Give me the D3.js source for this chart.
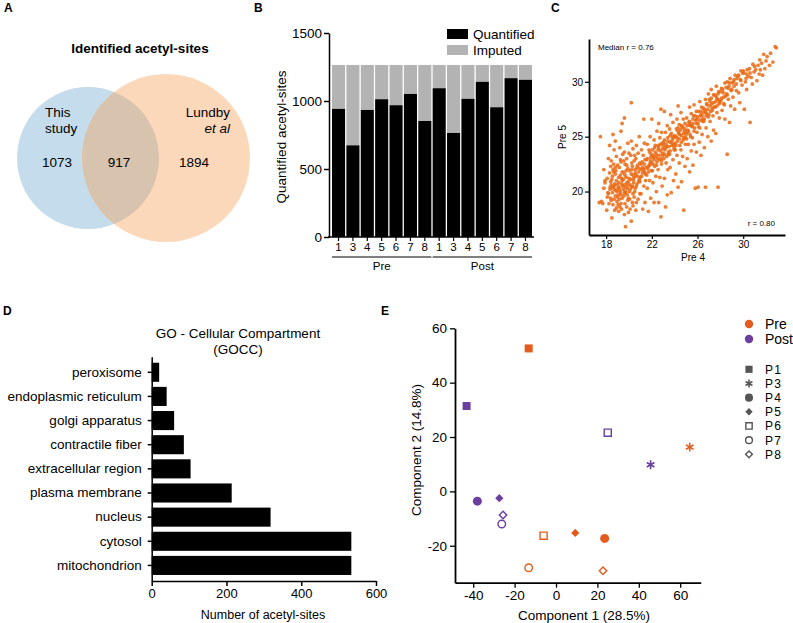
<!DOCTYPE html>
<meta charset="utf-8">
<script src="https://cdn.jsdelivr.net/npm/d3@7"></script>
<style>
body { margin: 0; background: #fff; }
svg { font-family: "Liberation Sans", Arial, sans-serif; }
.axis path, .axis line { stroke: #000; }
.axis text { fill: #000; }
</style>
<body>
<script>
// ---- A: venn counts
var vennLeft = 1073, vennBoth = 917, vennRight = 1894

// ---- B: quantified / imputed per sample
var sampleLabels = ["1","3","4","5","6","7","8","1","3","4","5","6","7","8"]
var sampleGroups = ["Pre","Pre","Pre","Pre","Pre","Pre","Pre","Post","Post","Post","Post","Post","Post","Post"]
var quantified = [942,674,934,1013,969,1052,853,1094,765,1016,1141,954,1168,1156]
var totalSites = 1265

// ---- C: Pre 4 vs Pre 5 intensities
var scatterPairs = [
[17.4,19.0],[17.6,19.1],[17.8,20.3],[17.9,21.0],[17.5,25.0],[17.7,18.9],[17.9,20.8],[17.8,22.0],
[18.05,18.3],[18.1,19.5],[18.2,19.8],[18.35,20.2],[18.45,20.6],[18.1,21.2],[18.3,21.7],[18.4,22.3],[18.2,23.0],[18.3,24.2],[18.5,17.6],[18.15,19.9],[18.4,20.9],[18.25,18.9],[18.45,22.8],
[18.6,18.8],[18.7,19.3],[18.8,19.6],[18.95,20.0],[18.6,20.4],[18.75,20.7],[18.9,21.0],[18.55,21.4],[18.85,21.9],[18.65,22.5],[18.9,23.2],[18.7,23.8],[18.8,24.6],[18.6,25.2],[18.95,19.1],[18.7,20.2],[18.8,21.6],[18.9,18.5],[18.6,22.0],
[19.7,16.8],[19.1,18.2],[19.3,18.9],[19.4,19.4],[19.05,19.7],[19.2,20.1],[19.45,20.5],[19.1,20.8],[19.35,21.2],[19.25,21.5],[19.4,21.8],[19.15,22.2],[19.3,22.7],[19.45,23.4],[19.2,24.0],[19.3,25.5],[19.4,26.2],[19.25,19.9],[19.05,20.3],[19.4,21.0],[19.2,18.6],
[19.6,17.9],[19.8,18.6],[19.9,19.2],[19.55,19.6],[19.7,19.9],[19.85,20.3],[19.6,20.6],[19.95,20.9],[19.75,21.3],[19.55,21.7],[19.9,22.1],[19.65,22.5],[19.8,23.0],[19.6,23.6],[19.9,24.4],[19.6,26.7],[19.7,20.0],[19.8,20.8],[19.65,21.5],[19.95,19.4],
[20.2,17.3],[20.1,18.4],[20.3,19.0],[20.45,19.5],[20.05,20.0],[20.25,20.4],[20.4,20.8],[20.15,21.1],[20.35,21.5],[20.05,21.9],[20.3,22.3],[20.45,22.8],[20.15,23.3],[20.35,23.9],[20.2,24.6],[20.2,28.1],[20.1,20.6],[20.45,21.3],[20.25,22.0],[20.35,19.8],
[20.6,18.3],[20.8,19.3],[20.95,19.8],[20.55,20.3],[20.7,20.7],[20.9,21.1],[20.6,21.5],[20.85,21.8],[20.7,22.2],[20.95,22.6],[20.6,23.0],[20.8,23.5],[20.65,24.2],[20.9,25.0],[20.75,21.4],[20.55,22.0],[20.95,20.9],
[21.2,18.4],[21.4,19.0],[21.05,19.8],[21.3,20.5],[21.45,21.0],[21.1,21.4],[21.35,21.8],[21.2,22.2],[21.05,22.5],[21.4,22.9],[21.25,23.3],[21.1,23.8],[21.35,24.4],[21.3,26.6],[21.45,21.6],[21.15,22.7],[21.3,22.0],
[21.7,18.2],[21.9,19.4],[21.6,20.3],[21.8,21.0],[21.55,21.5],[21.95,21.9],[21.7,22.3],[21.85,22.6],[21.6,23.0],[21.95,23.4],[21.75,23.8],[21.6,24.3],[21.85,25.0],[22.0,26.6],[21.65,22.1],[21.9,22.8],[21.8,23.6],
[22.2,19.0],[22.4,20.0],[22.1,20.8],[22.35,21.4],[22.05,21.9],[22.25,22.3],[22.45,22.7],[22.15,23.1],[22.4,23.4],[22.05,23.8],[22.3,24.2],[22.2,24.7],[22.45,25.5],[22.8,27.5],[22.1,22.5],[22.35,23.2],[22.25,24.0],
[22.8,17.7],[22.6,19.0],[22.9,20.5],[22.7,21.3],[22.55,22.0],[22.85,22.5],[22.65,22.9],[22.95,23.3],[22.75,23.7],[22.6,24.0],[22.9,24.4],[22.7,24.9],[22.85,25.4],[22.6,26.2],[22.95,23.5],[22.55,24.2],[22.8,23.0],
[23.2,18.6],[23.35,19.7],[23.1,21.2],[23.4,22.0],[23.25,22.6],[23.05,23.0],[23.45,23.4],[23.15,23.8],[23.3,24.1],[23.05,24.5],[23.4,24.9],[23.2,25.4],[23.35,26.0],[23.1,27.3],[23.45,23.6],[23.25,24.3],[23.1,24.7],
[23.7,19.9],[23.9,21.0],[23.6,22.2],[23.85,22.9],[23.55,23.4],[23.95,23.8],[23.75,24.2],[23.6,24.5],[23.9,24.9],[23.7,25.3],[23.55,25.7],[23.85,26.3],[23.65,27.0],[23.95,24.0],[23.8,24.7],[23.6,25.1],
[24.3,20.4],[24.1,21.6],[24.4,22.6],[24.2,23.3],[24.05,23.8],[24.45,24.2],[24.25,24.6],[24.1,25.0],[24.35,25.3],[24.15,25.7],[24.4,26.1],[24.2,26.6],[24.3,27.8],[24.05,24.4],[24.45,25.2],[24.3,25.5],
[24.8,18.3],[24.6,20.9],[24.9,22.3],[24.7,23.2],[24.55,23.8],[24.95,24.3],[24.75,24.7],[24.6,25.1],[24.85,25.5],[24.65,25.8],[24.9,26.2],[24.75,26.6],[24.55,27.2],[24.95,24.9],[24.8,25.3],[24.6,26.0],
[25.3,21.8],[25.1,23.0],[25.45,23.7],[25.2,24.3],[25.05,24.8],[25.35,25.2],[25.15,25.6],[25.4,26.0],[25.25,26.3],[25.05,26.7],[25.45,27.1],[25.3,27.7],[25.1,25.4],[25.35,26.1],
[25.8,20.3],[25.6,22.4],[25.9,23.6],[25.7,24.3],[25.55,24.9],[25.95,25.4],[25.75,25.8],[25.6,26.2],[25.85,26.5],[25.65,26.9],[25.9,27.3],[25.7,27.9],[25.55,25.9],[25.95,26.6],
[26.05,20.4],[26.3,23.3],[26.15,24.5],[26.4,25.2],[26.2,25.8],[26.05,26.2],[26.45,26.6],[26.25,26.9],[26.1,27.3],[26.35,27.7],[26.2,28.2],[26.45,26.4],[26.3,27.0],
[26.7,20.4],[26.6,24.0],[26.9,25.0],[26.75,25.8],[26.55,26.4],[26.95,26.8],[26.8,27.1],[26.6,27.5],[26.85,27.9],[26.7,28.4],[26.95,28.9],[26.55,27.2],[26.75,26.9],
[27.2,24.6],[27.4,25.6],[27.1,26.4],[27.35,26.9],[27.15,27.3],[27.45,27.7],[27.25,28.0],[27.05,28.4],[27.4,28.8],[27.2,29.3],[27.3,27.6],[27.1,28.2],
[27.8,20.4],[27.6,25.3],[27.9,26.7],[27.7,27.2],[27.55,27.7],[27.95,28.1],[27.75,28.4],[27.6,28.7],[27.85,29.1],[27.65,29.6],[27.9,28.0],[27.7,28.5],
[28.4,26.6],[28.15,27.4],[28.35,27.9],[28.05,28.3],[28.45,28.7],[28.25,29.0],[28.1,29.4],[28.4,29.9],[28.3,28.6],
[28.6,23.4],[28.8,26.3],[28.9,27.8],[28.7,28.4],[28.55,28.9],[28.95,29.2],[28.75,29.6],[28.6,30.0],[28.85,30.3],[28.7,29.4],
[29.25,27.5],[29.1,28.6],[29.4,29.2],[29.2,29.6],[29.05,29.9],[29.45,30.3],[29.3,30.6],[29.15,30.0],
[29.7,28.1],[29.6,29.0],[29.9,29.7],[29.75,30.2],[29.55,30.5],[29.95,30.8],[29.8,31.0],
[30.1,27.5],[30.3,29.3],[30.2,30.0],[30.45,30.5],[30.05,30.8],[30.35,31.1],[30.25,30.3],
[30.6,26.3],[30.8,29.8],[30.7,30.4],[30.95,30.9],[30.55,31.2],[30.85,31.6],
[31.2,30.1],[31.4,30.7],[31.1,31.1],[31.3,31.5],[31.45,32.0],
[31.7,30.6],[31.9,31.2],[31.6,31.7],[31.8,32.5],
[32.3,31.5],[32.1,32.3],[32.4,32.6],
[32.6,31.8],[32.9,33.1],
// denser core, lower-left blob
[18.4,19.4],[18.55,19.9],[18.7,20.5],[18.85,20.1],[18.95,20.6],[19.0,19.5],[19.1,21.3],[19.15,20.4],[19.3,19.7],[19.35,20.7],[19.5,20.2],[19.5,21.1],[19.6,19.9],[19.7,20.4],[19.75,21.9],[19.85,19.7],[19.9,20.6],[20.0,21.2],[20.05,19.3],[20.1,20.2],[20.2,21.6],[20.3,20.5],[20.4,21.1],[20.5,20.0],[20.55,21.7],[20.65,20.5],[20.75,22.4],[20.85,20.9],[20.9,22.1],[21.0,21.3],
[18.5,21.1],[18.65,21.8],[18.8,22.2],[19.0,22.4],[19.25,22.9],[19.55,22.8],[19.8,22.4],[20.0,23.5],[20.25,22.6],[20.5,23.3],[18.45,19.2],[18.75,18.3],[19.05,18.8],[19.35,18.4],[19.65,18.9],[19.95,18.1],[20.35,18.7],[20.65,19.0],[18.35,20.4],[19.15,19.3],
// denser core, main ridge
[21.1,22.0],[21.2,21.7],[21.35,22.5],[21.5,22.2],[21.55,22.9],[21.7,21.8],[21.8,22.4],[21.9,23.1],[22.0,22.6],[22.1,23.3],[22.2,22.9],[22.3,23.6],[22.4,22.4],[22.5,23.0],[22.55,23.8],[22.65,23.3],[22.75,24.3],[22.85,22.8],[22.95,23.9],[23.0,24.2],
[23.1,23.4],[23.2,24.0],[23.3,23.2],[23.4,24.6],[23.5,24.1],[23.6,23.7],[23.7,24.5],[23.8,25.0],[23.9,24.3],[24.0,25.1],[24.1,24.2],[24.2,24.9],[24.3,25.8],[24.4,24.8],[24.5,25.6],[24.6,24.5],[24.7,25.9],[24.8,24.9],[24.9,25.7],[25.0,25.2],
[25.1,26.0],[25.2,25.5],[25.3,26.4],[25.4,25.0],[25.5,26.0],[25.6,26.6],[25.7,25.5],[25.8,26.9],[25.9,26.2],[26.0,26.8],[26.1,25.9],[26.2,26.5],[26.3,27.3],[26.4,26.9],[26.5,27.6],[26.6,26.6],[26.7,27.3],[26.8,28.0],[26.9,27.5],[27.0,27.0],
[27.1,27.8],[27.2,28.5],[27.3,27.4],[27.4,28.1],[27.5,28.8],[27.6,28.2],[27.7,27.8],[27.8,28.9],[27.9,28.3],[28.0,29.1],[28.1,28.5],[28.2,29.3],[28.3,28.0],[28.5,29.5],[28.6,28.8],[28.8,29.9],[29.0,29.3],[29.2,30.2],[29.4,29.8],[29.6,30.6],
[29.8,30.1],[30.0,31.0],[30.3,30.7],[30.6,30.8],[31.0,31.4],[31.5,31.1],[32.0,31.9],[32.8,33.2]
]

// ---- D: GOCC
var goTerms = ["peroxisome","endoplasmic reticulum","golgi apparatus","contractile fiber","extracellular region","plasma membrane","nucleus","cytosol","mitochondrion"]
var goCounts = [20,40,60,86,104,214,318,534,534]

// ---- E: PCA
var pcaSamples = ["P1","P3","P4","P5","P6","P7","P8"]
var pcaShapes = ["square","asterisk","circle","diamond","square","circle","diamond"]
var pcaFilled = [true,true,true,true,false,false,false]
var preX = [-13.2,64.6,23.5,9.3,-6.0,-13.2,22.7]
var preY = [52.6,16.3,-17.3,-15.3,-16.3,-28.1,-29.2]
var postX = [-43.2,45.7,-38.0,-27.4,25.0,-26.2,-25.6]
var postY = [31.4,9.8,-3.6,-2.5,21.6,-12.0,-8.7]

var orange = "#e35b1d", purple = "#6a3fa0"

var svg = d3.select("body").append("svg").attr("width", 793).attr("height", 623)

function letter(t, x, y) {
    svg.append("text").attr("x", x).attr("y", y).attr("font-weight", "bold").attr("font-size", 12).text(t)
}
letter("A", 4, 12); letter("B", 254, 12); letter("C", 551, 12); letter("D", 3, 315); letter("E", 381, 315)

// ================= A
var gA = svg.append("g")
gA.append("text").attr("x", 140).attr("y", 53).attr("text-anchor", "middle").attr("font-weight", "bold").attr("font-size", 13.5).text("Identified acetyl-sites")
var cl = {x: 88, y: 158, r: 71}, cr = {x: 166, y: 158, r: 84}
gA.append("circle").attr("cx", cl.x).attr("cy", cl.y).attr("r", cl.r).attr("fill", "#c5dcec")
gA.append("circle").attr("cx", cr.x).attr("cy", cr.y).attr("r", cr.r).attr("fill", "#fcd8bb")
svg.append("clipPath").attr("id", "clipL").append("circle").attr("cx", cl.x).attr("cy", cl.y).attr("r", cl.r)
gA.append("circle").attr("cx", cr.x).attr("cy", cr.y).attr("r", cr.r).attr("fill", "#d8c3ae").attr("clip-path", "url(#clipL)")
var fa = 13.5
gA.append("text").attr("x", 45).attr("y", 117).attr("font-size", fa).text("This")
gA.append("text").attr("x", 45).attr("y", 133).attr("font-size", fa).text("study")
gA.append("text").attr("x", 230).attr("y", 117).attr("text-anchor", "end").attr("font-size", fa).text("Lundby")
gA.append("text").attr("x", 230).attr("y", 133).attr("text-anchor", "end").attr("font-size", fa).attr("font-style", "italic").text("et al")
gA.append("text").attr("x", 57).attr("y", 167).attr("text-anchor", "middle").attr("font-size", fa).text(vennLeft)
gA.append("text").attr("x", 119).attr("y", 167).attr("text-anchor", "middle").attr("font-size", fa).text(vennBoth)
gA.append("text").attr("x", 194).attr("y", 167).attr("text-anchor", "middle").attr("font-size", fa).text(vennRight)

// ================= B
var gB = svg.append("g")
var yB = d3.scaleLinear().domain([0, 1500]).range([237, 33])
var xB = d3.scaleBand().domain(d3.range(quantified.length)).range([332, 532]).paddingInner(0.09)
gB.selectAll(".imp").data(quantified).enter().append("rect")
    .attr("x", (d, i) => xB(i)).attr("width", xB.bandwidth())
    .attr("y", yB(totalSites)).attr("height", d => yB(d) - yB(totalSites)).attr("fill", "#b3b3b3")
gB.selectAll(".q").data(quantified).enter().append("rect")
    .attr("x", (d, i) => xB(i)).attr("width", xB.bandwidth())
    .attr("y", d => yB(d)).attr("height", d => yB(0) - yB(d)).attr("fill", "#000")
var ayB = gB.append("g").attr("class", "axis").attr("transform", "translate(329,0)")
    .call(d3.axisLeft(yB).tickValues([0, 500, 1000, 1500]).tickFormat(d3.format("d")).tickSize(5).tickSizeOuter(0).tickPadding(2))
ayB.selectAll("text").attr("font-size", 13.5)
ayB.selectAll("path,line").attr("stroke-width", 1.5)
var axB = gB.append("g").attr("class", "axis").attr("transform", "translate(0,237)")
    .call(d3.axisBottom(xB).tickFormat(i => sampleLabels[i]).tickSize(4).tickPadding(2))
axB.select(".domain").remove()
axB.selectAll("line").attr("stroke-width", 1.2)
axB.selectAll("text").attr("font-size", 11.5)
gB.append("line").attr("x1", 328).attr("x2", 534).attr("y1", 237).attr("y2", 237).attr("stroke", "#000").attr("stroke-width", 1.5)
;["Pre", "Post"].forEach(g => {
    var idx = d3.range(sampleGroups.length).filter(i => sampleGroups[i] === g)
    var x0 = xB(idx[0]), x1 = xB(idx[idx.length - 1]) + xB.bandwidth()
    gB.append("line").attr("x1", x0).attr("x2", x1).attr("y1", 257).attr("y2", 257).attr("stroke", "#000").attr("stroke-width", 1.2)
    gB.append("text").attr("x", (x0 + x1) / 2).attr("y", 270).attr("text-anchor", "middle").attr("font-size", 11.5).text(g)
})
gB.append("text").attr("transform", "translate(286,137) rotate(-90)").attr("text-anchor", "middle").attr("font-size", 13.5).text("Quantified acetyl-sites")
var legB = [["Quantified", "#000"], ["Imputed", "#b3b3b3"]]
legB.forEach((d, i) => {
    gB.append("rect").attr("x", 447).attr("y", 29 + i * 16).attr("width", 21).attr("height", 10).attr("fill", d[1])
    gB.append("text").attr("x", 473).attr("y", 39 + i * 16).attr("font-size", 13.5).text(d[0])
})

// ================= C
var gC = svg.append("g")
var xC = d3.scaleLinear().domain([16.5, 33.66]).range([589, 785])
var yC = d3.scaleLinear().domain([16.04, 33.9]).range([235, 39])
gC.selectAll("circle").data(scatterPairs).enter().append("circle")
    .attr("cx", d => xC(d[0])).attr("cy", d => yC(d[1])).attr("r", 1.9)
    .attr("fill", "#ea6a14").attr("fill-opacity", 0.85)
var axC = gC.append("g").attr("class", "axis").attr("transform", "translate(0,235)")
    .call(d3.axisBottom(xC).tickValues([18, 22, 26, 30]).tickSize(4).tickSizeOuter(0).tickPadding(2))
var ayC = gC.append("g").attr("class", "axis").attr("transform", "translate(589,0)")
    .call(d3.axisLeft(yC).tickValues([20, 25, 30]).tickSize(4).tickSizeOuter(0).tickPadding(2))
;[axC, ayC].forEach(a => {
    a.select(".domain").attr("stroke-width", 1.8)
    a.selectAll("line").attr("stroke-width", 1.2)
    a.selectAll("text").attr("font-size", 10).attr("fill", "#333")
})
gC.append("text").attr("transform", "translate(566,137) rotate(-90)").attr("text-anchor", "middle").attr("font-size", 10).text("Pre 5")
gC.append("text").attr("x", 693).attr("y", 261).attr("text-anchor", "middle").attr("font-size", 10).text("Pre 4")
gC.append("text").attr("x", 598).attr("y", 50).attr("font-size", 8).text("Median r = 0.76")
gC.append("text").attr("x", 775).attr("y", 226).attr("text-anchor", "end").attr("font-size", 8).text("r = 0.80")

// ================= D
var gD = svg.append("g")
var xD = d3.scaleLinear().domain([0, 600]).range([151.7, 376])
var yD = d3.scaleBand().domain(goTerms).range([356.7, 581]).paddingInner(0.21).paddingOuter(0.25)
gD.selectAll("rect").data(goTerms).enter().append("rect")
    .attr("x", xD(0)).attr("y", d => yD(d)).attr("height", yD.bandwidth())
    .attr("width", (d, i) => xD(goCounts[i]) - xD(0)).attr("fill", "#000")
var ayD = gD.append("g").attr("class", "axis").attr("transform", "translate(151.7,0)")
    .call(d3.axisLeft(yD).tickSize(4).tickSizeOuter(0).tickPadding(6))
ayD.selectAll("text").attr("font-size", 13.5)
var axD = gD.append("g").attr("class", "axis").attr("transform", "translate(0,581)")
    .call(d3.axisBottom(xD).tickValues([0, 200, 400, 600]).tickSize(5).tickSizeOuter(0).tickPadding(3))
axD.selectAll("text").attr("font-size", 13)
;[ayD, axD].forEach(a => a.selectAll("path,line").attr("stroke-width", 1.5))
gD.append("text").attr("x", 238).attr("y", 338).attr("text-anchor", "middle").attr("font-size", 13.5).text("GO - Cellular Compartment")
gD.append("text").attr("x", 238).attr("y", 354).attr("text-anchor", "middle").attr("font-size", 13.5).text("(GOCC)")
gD.append("text").attr("x", 263).attr("y", 619).attr("text-anchor", "middle").attr("font-size", 12.5).text("Number of acetyl-sites")

// ================= E
var gE = svg.append("g")
var xE = d3.scaleLinear().domain([-48.8, 69.9]).range([455, 700.7])
var yE = d3.scaleLinear().domain([-33.6, 60]).range([582.7, 328.3])
var axE = gE.append("g").attr("class", "axis").attr("transform", "translate(0,582.7)")
    .call(d3.axisBottom(xE).tickValues([-40, -20, 0, 20, 40, 60]).tickSize(5).tickSizeOuter(0).tickPadding(3).tickFormat(d3.format("d")))
var ayE = gE.append("g").attr("class", "axis").attr("transform", "translate(455,0)")
    .call(d3.axisLeft(yE).tickValues([-20, 0, 20, 40, 60]).tickSize(5).tickSizeOuter(0).tickPadding(3).tickFormat(d3.format("d")))
;[axE, ayE].forEach(a => {
    a.select(".domain").attr("stroke-width", 1.8)
    a.selectAll("line").attr("stroke-width", 1.3)
    a.selectAll("text").attr("font-size", 13.5)
})
// plain hyphen minus like the reference
gE.selectAll(".tick text").text(function () { return this.textContent.replace("\u2212", "-") })

function marker(g, shape, filled, color, x, y, scale) {
    var s = scale || 1
    var p
    if (shape === "square") p = g.append("path").attr("d", d3.symbol(d3.symbolSquare, (filled ? 64 : 50) * s)())
        .attr("transform", "translate(" + x + "," + y + ")")
    else if (shape === "circle") p = g.append("path").attr("d", d3.symbol(d3.symbolCircle, (filled ? 64 : 45) * s)())
        .attr("transform", "translate(" + x + "," + y + ")")
    else if (shape === "diamond") p = g.append("path").attr("d", d3.symbol(d3.symbolSquare, (filled ? 34 : 28) * s)())
        .attr("transform", "translate(" + x + "," + y + ") rotate(45)")
    else p = g.append("path").attr("d", d3.symbol(d3.symbolAsterisk, 55 * s)())
        .attr("transform", "translate(" + x + "," + y + ")")
    if (shape === "asterisk") p.attr("fill", "none").attr("stroke", color).attr("stroke-width", 1.6)
    else if (filled) p.attr("fill", color)
    else p.attr("fill", "#fff").attr("stroke", color).attr("stroke-width", 1.4)
}

pcaSamples.forEach((s, i) => {
    marker(gE, pcaShapes[i], pcaFilled[i], orange, xE(preX[i]), yE(preY[i]))
    marker(gE, pcaShapes[i], pcaFilled[i], purple, xE(postX[i]), yE(postY[i]))
})

gE.append("text").attr("transform", "translate(421,450) rotate(-90)").attr("text-anchor", "middle").attr("font-size", 13.5).text("Component 2 (14.8%)")
gE.append("text").attr("x", 584).attr("y", 620).attr("text-anchor", "middle").attr("font-size", 13.5).text("Component 1 (28.5%)")

// legend
var legG = [["Pre", orange], ["Post", purple]]
legG.forEach((d, i) => {
    gE.append("circle").attr("cx", 749).attr("cy", 324 + i * 15).attr("r", 4.2).attr("fill", d[1])
    gE.append("text").attr("x", 765).attr("y", 329 + i * 15).attr("font-size", 14).text(d[0])
})
pcaSamples.forEach((s, i) => {
    var yy = 369.3 + i * 14.17
    marker(gE, pcaShapes[i], pcaFilled[i], "#555", 749, yy, 0.8)
    gE.append("text").attr("x", 765).attr("y", yy + 4.5).attr("font-size", 12).attr("letter-spacing", 1.2).text(s)
})
</script>
</body>
</html>
